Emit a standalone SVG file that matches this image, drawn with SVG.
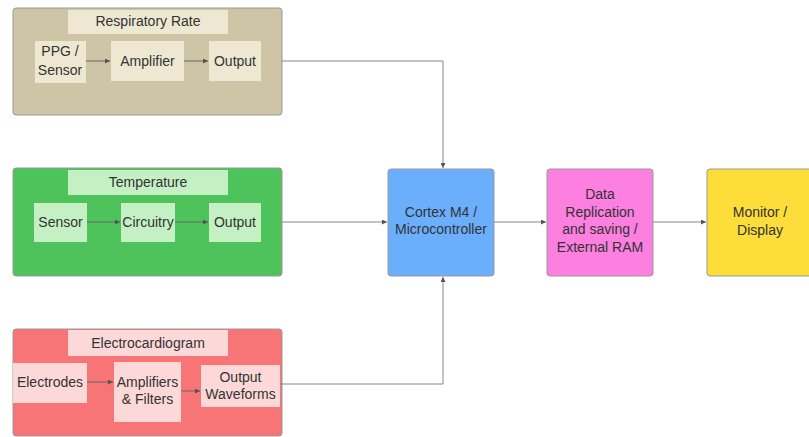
<svg xmlns="http://www.w3.org/2000/svg" width="809" height="437" viewBox="0 0 809 437">
<defs>
<marker id="ah" viewBox="0 0 6 6" refX="6" refY="3" markerWidth="5" markerHeight="5" orient="auto"><path d="M0,0 L6,3 L0,6 z" fill="#555"/></marker>
<style>
text{font-family:"Liberation Sans",Arial,sans-serif;font-size:14px;fill:#333;text-anchor:middle}
.b{stroke:#999;stroke-width:1}
.c{fill:none;stroke:#888;stroke-width:1;marker-end:url(#ah)}
.ci{fill:none;stroke:#666;stroke-width:1;marker-end:url(#ah)}
</style>
</defs>
<rect width="809" height="437" fill="#fff"/>
<g id="respiratory">
<rect x="13" y="8" width="269" height="107" rx="3" fill="#cdc5a5" class="b"/>
<rect x="68" y="10" width="160" height="24" fill="#eee8d2"/>
<text x="148" y="26">Respiratory Rate</text>
<rect x="35" y="41" width="51" height="42" fill="#eee8d2"/>
<text x="60" y="56">PPG /</text><text x="60" y="75">Sensor</text>
<rect x="111" y="41" width="73" height="40" fill="#eee8d2"/>
<text x="147.5" y="66">Amplifier</text>
<rect x="209" y="41" width="52" height="40" fill="#eee8d2"/>
<text x="235" y="66">Output</text>
</g>
<g id="temperature">
<rect x="13" y="168" width="269" height="108" rx="3" fill="#4ec35b" class="b"/>
<rect x="68" y="170" width="160" height="25" fill="#c4f0c4"/>
<text x="148" y="187">Temperature</text>
<rect x="34" y="203" width="53" height="39" fill="#c4f0c4"/>
<text x="60.5" y="227">Sensor</text>
<rect x="121" y="203" width="54" height="39" fill="#c4f0c4"/>
<text x="148" y="227">Circuitry</text>
<rect x="209" y="203" width="52" height="39" fill="#c4f0c4"/>
<text x="235" y="227">Output</text>
</g>
<g id="ecg">
<rect x="13" y="329" width="269" height="107" rx="3" fill="#f77576" class="b"/>
<rect x="68" y="330" width="160" height="26" fill="#fcd8d8"/>
<text x="148" y="348">Electrocardiogram</text>
<rect x="13" y="363" width="74" height="40" fill="#fcd8d8"/>
<text x="50" y="387">Electrodes</text>
<rect x="114" y="362" width="67" height="60" fill="#fcd8d8"/>
<text x="147.5" y="387">Amplifiers</text><text x="147.5" y="404">&amp; Filters</text>
<rect x="201" y="365" width="79" height="42" fill="#fcd8d8"/>
<text x="240.5" y="382">Output</text><text x="240.5" y="399">Waveforms</text>
</g>
<g id="cortex">
<rect x="388" y="169" width="106" height="107" rx="3" fill="#6aaefc" class="b"/>
<text x="441" y="217">Cortex M4 /</text><text x="441" y="234">Microcontroller</text>
</g>
<g id="data">
<rect x="547" y="169" width="106" height="107" rx="3" fill="#fd7fdf" class="b"/>
<text x="600" y="199">Data</text><text x="600" y="216.5">Replication</text><text x="600" y="234">and saving /</text><text x="600" y="251.5">External RAM</text>
</g>
<g id="monitor">
<rect x="707" y="169" width="106" height="107" rx="3" fill="#fddd3a" class="b"/>
<text x="760" y="217">Monitor /</text><text x="760" y="235">Display</text>
</g>
<g id="connectors">
<path class="ci" d="M86,61 H110"/>
<path class="ci" d="M184,61 H208"/>
<path class="ci" d="M87,222 H120"/>
<path class="ci" d="M175,222 H208"/>
<path class="ci" d="M87,382 H113"/>
<path class="ci" d="M181,391 H200"/>
<path class="c" d="M282,61 H443 V168"/>
<path class="c" d="M282,222 H387"/>
<path class="c" d="M280,384 H443 V277"/>
<path class="c" d="M494,222 H546"/>
<path class="c" d="M653,222 H706"/>
</g>
</svg>
